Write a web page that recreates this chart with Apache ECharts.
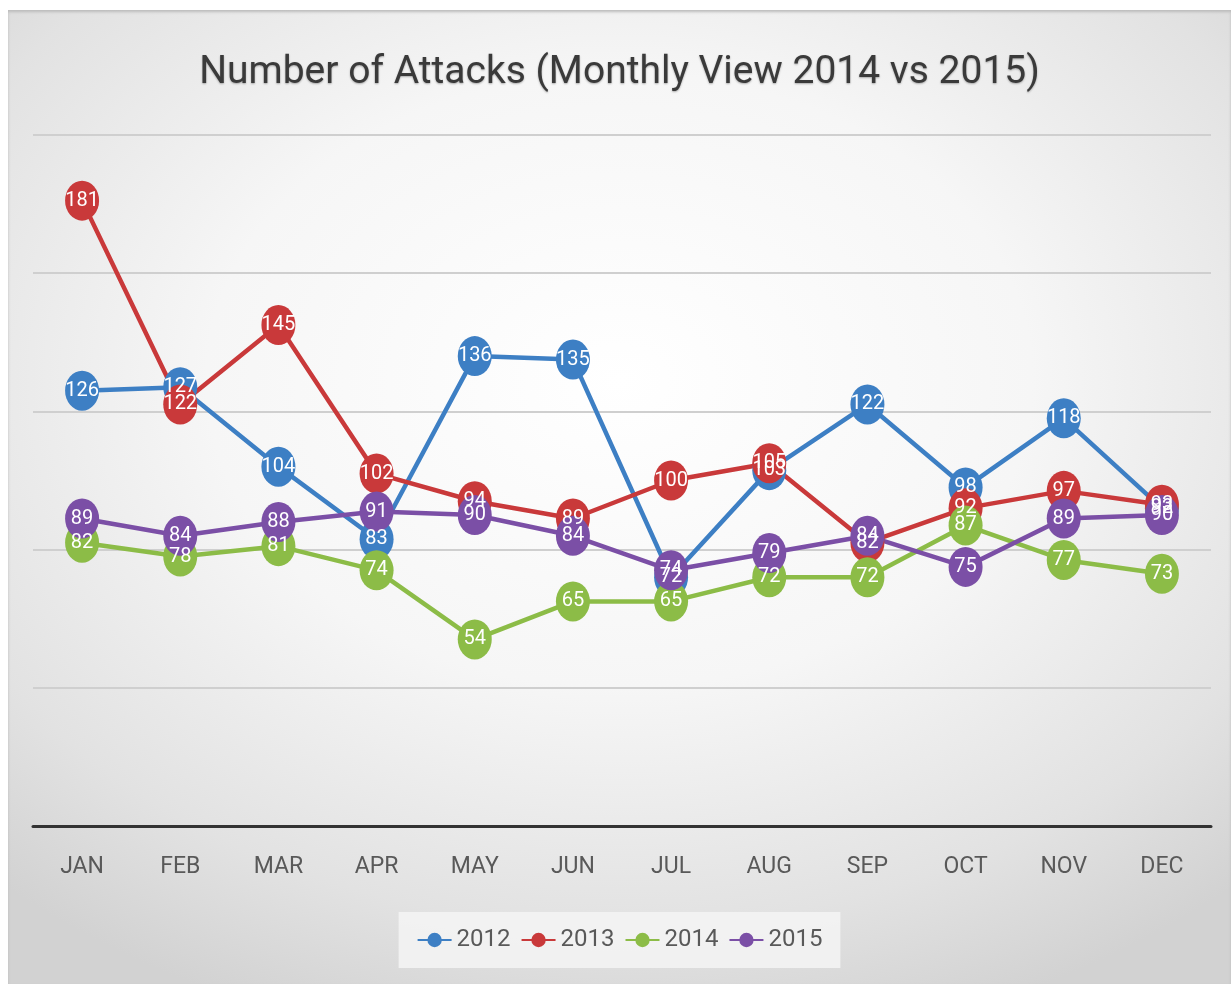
<!DOCTYPE html>
<html>
<head>
<meta charset="utf-8">
<script src="https://cdn.jsdelivr.net/npm/echarts@6/dist/echarts.min.js"></script>
<style>
html,body{margin:0;padding:0;background:#fff;width:1231px;height:984px;overflow:hidden;}
#c{position:absolute;left:8px;top:10px;width:1223px;height:974px;
background:radial-gradient(ellipse 75% 70% at 50% 38%, #ffffff 0%, #f6f6f6 45%, #e2e2e2 80%, #d2d2d2 100%);
box-shadow:inset 0 2px 3px #bbb;}
</style>
</head>
<body>
<div id="c"></div>
<script>
const months = ['JAN','FEB','MAR','APR','MAY','JUN','JUL','AUG','SEP','OCT','NOV','DEC'];
const s2012 = [126,127,104,83,136,135,72,103,122,98,118,92];
const s2013 = [181,122,145,102,94,89,100,105,82,92,97,93];
const s2014 = [82,78,81,74,54,65,65,72,72,87,77,73];
const s2015 = [89,84,88,91,90,84,74,79,84,75,89,90];
const seriesNames = ['2012','2013','2014','2015'];
const colors = ['#3d7fc4','#c9393a','#8cbc47','#7b4fa6'];
const FONT = '"Roboto","Noto Sans",sans-serif';

const chart = echarts.init(document.getElementById('c'));
function mk(name, data, color){
  return {
    name, type:'line', data,
    symbol:'circle', symbolSize:[34,40],
    lineStyle:{width:4.5,color},
    itemStyle:{color},
    label:{show:true,position:'inside',color:'#fff',fontSize:20,fontFamily:FONT},
    emphasis:{disabled:true}
  };
}
chart.setOption({
  animation:false,
  color:colors,
  title:{text:'Number of Attacks (Monthly View 2014 vs 2015)',left:'center',top:39,
    textStyle:{fontFamily:FONT,fontSize:39,fontWeight:'normal',color:'#3a3a3a',
      textShadowColor:'rgba(0,0,0,0.3)',textShadowBlur:2,textShadowOffsetY:1}},
  legend:{data:seriesNames,bottom:16,left:'center',itemWidth:34,itemHeight:18,itemGap:10,
    backgroundColor:'rgba(245,245,245,0.85)',padding:[16,18],
    textStyle:{fontFamily:FONT,fontSize:24,color:'#595959'}},
  grid:{left:25,right:20,top:125,bottom:158},
  xAxis:{type:'category',data:months,boundaryGap:true,
    axisLine:{lineStyle:{color:'#333',width:3}},
    axisTick:{show:false},
    axisLabel:{margin:30,fontFamily:FONT,fontSize:23,color:'#595959'}},
  yAxis:{type:'value',min:0,max:200,interval:40,
    axisLabel:{show:false},axisLine:{show:false},axisTick:{show:false},
    splitLine:{lineStyle:{color:'#cfcfcf',width:2}}},
  series:[mk('2012',s2012,colors[0]),mk('2013',s2013,colors[1]),mk('2014',s2014,colors[2]),mk('2015',s2015,colors[3])]
});
</script>
</body>
</html>
